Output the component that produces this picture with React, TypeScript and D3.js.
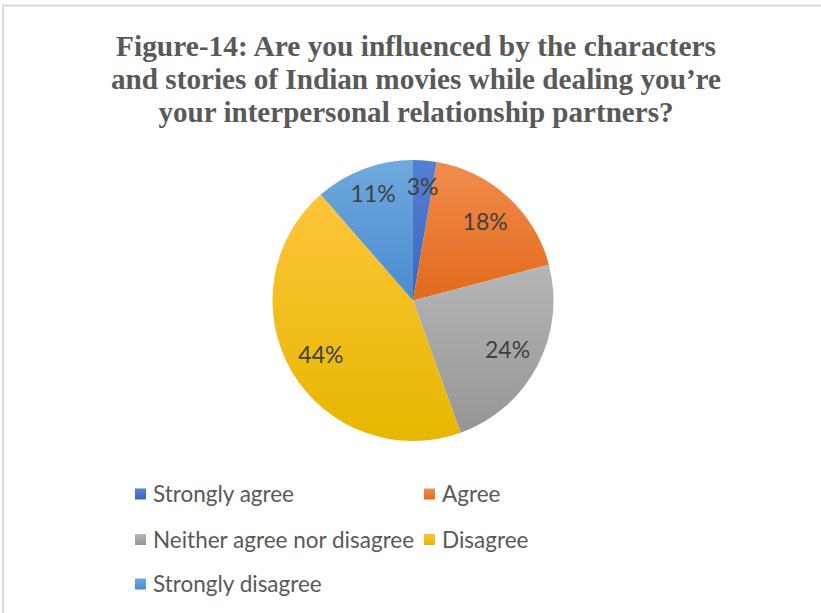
import React from "react";
import * as d3 from "d3";

const categories = ["Strongly agree", "Agree", "Neither agree nor disagree", "Disagree", "Strongly disagree"];
const shares = [2.7, 18.2, 23.6, 44.1, 11.4];
const topColors = ["#5580D2", "#F18C4E", "#B6B6B6", "#FEC53A", "#6FA9DE"];
const bottomColors = ["#3A66C0", "#E26A1B", "#959595", "#E6B700", "#4A8BCF"];
const titleLines = [
  "Figure-14: Are you influenced by the characters",
  "and stories of Indian movies while dealing you\u2019re",
  "your interpersonal relationship partners?",
];

const W = 821;
const H = 613;
const cx = 413;
const cy = 300.5;
const R = 140.5;

export default function App() {
  const pie = d3.pie<number>().sort(null).value((d) => d)(shares);
  const arc = d3.arc<d3.PieArcDatum<number>>().innerRadius(0).outerRadius(R);
  const fmt = (v: number) => `${Math.round(v)}%`;
  const titleLens = [600, 610, 515];
  const titleY = [56, 89, 122];

  const legendItems = categories.map((c, i) => ({
    c,
    i,
    col: i % 2,
    row: Math.floor(i / 2),
  }));
  const colX = [135, 424];
  const rowY = [494, 539.5, 584];

  return (
    <svg
      width={W}
      height={H}
      style={{ position: "absolute", left: 0, top: 0, background: "#fff" }}
    >
      <defs>
        {topColors.map((c, i) => (
          <linearGradient key={i} id={`g${i}`} x1="0" y1="0" x2="0" y2="1">
            <stop offset="0%" stopColor={c} />
            <stop offset="100%" stopColor={bottomColors[i]} />
          </linearGradient>
        ))}
      </defs>
      <rect x={3} y={5.5} width={W + 20} height={H + 20} fill="#fff" stroke="#d9d9d9" strokeWidth={2} />
      {titleLines.map((t, i) => (
        <text
          key={i}
          x={416}
          y={titleY[i]}
          textAnchor="middle"
          fontFamily="'Liberation Serif', 'Times New Roman', serif"
          fontWeight="bold"
          fontSize={29}
          fill="#595959"
          textLength={titleLens[i]}
          lengthAdjust="spacingAndGlyphs"
        >
          {t}
        </text>
      ))}
      <g transform={`translate(${cx},${cy})`}>
        {pie.map((p, i) => (
          <path key={i} d={arc(p)!} fill={`url(#g${i})`} />
        ))}
        {pie.map((p, i) => {
          const lr = R * (p.value < 12 ? 0.81 : 0.76);
          const la = d3.arc<d3.PieArcDatum<number>>().innerRadius(lr).outerRadius(lr);
          const [x, y] = la.centroid(p);
          return (
            <text
              key={i}
              x={x}
              y={y}
              dy="0.36em"
              textAnchor="middle"
              fontFamily="Lato, 'Open Sans', sans-serif"
              fontSize={23}
              fill="#404040"
            >
              {fmt(p.value)}
            </text>
          );
        })}
      </g>
      {legendItems.map((it) => (
        <g key={it.i} transform={`translate(${colX[it.col]},${rowY[it.row]})`}>
          <rect x={0} y={-5.5} width={11} height={11} fill={`url(#g${it.i})`} />
          <text
            x={18}
            y={0}
            dy="0.36em"
            fontFamily="Lato, 'Open Sans', sans-serif"
            fontSize={22.5}
            fill="#595959"
          >
            {it.c}
          </text>
        </g>
      ))}
    </svg>
  );
}
